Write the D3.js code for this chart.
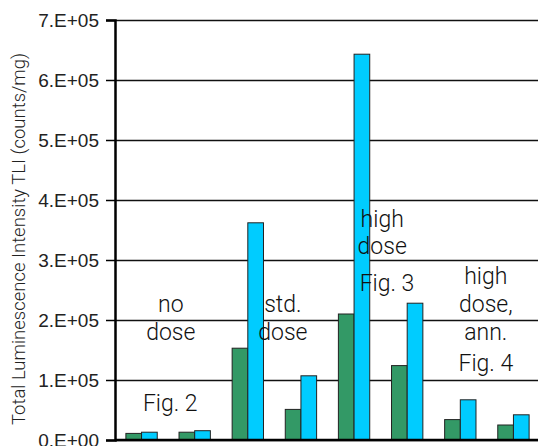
<!DOCTYPE html>
<html>
<head>
<meta charset="utf-8">
<script src="https://cdn.jsdelivr.net/npm/d3@7"></script>
<style>
  body { margin: 0; background: #fff; }
  svg { display: block; font-family: Roboto, "Liberation Sans", Arial, sans-serif; font-weight: 300; }
</style>
</head>
<body>
<svg id="chart" width="538" height="446"></svg>
<script>
// data
const categories = ["1", "2", "3", "4", "5", "6", "7", "8"]
const seriesNames = ["green", "blue"]
const greenValues = [11000, 13000, 153000, 51000, 210000, 124000, 34000, 25000]
const blueValues = [13000, 15500, 362000, 107000, 643000, 228000, 67000, 42000]
const yTicks = [0, 100000, 200000, 300000, 400000, 500000, 600000, 700000]

// text notes: lines, position in category units and baseline value
const noteText = ["no", "dose", "Fig. 2", "std.", "dose", "high", "dose", "Fig. 3", "high", "dose,", "ann.", "Fig. 4"]
const noteCat = [0.55, 0.55, 0.54, 2.66, 2.66, 4.53, 4.53, 4.62, 6.48, 6.48, 6.48, 6.48]
const noteVal = [213000, 166700, 49000, 213000, 166700, 355800, 310000, 249000, 260000, 213000, 166700, 115000]

const colors = { green: "#339966", blue: "#00ccff" }

const svg = d3.select("#chart")
const plot = { left: 115, right: 540, top: 20, bottom: 440 }

const x = d3.scaleBand()
  .domain(categories)
  .range([plot.left, plot.right])
  .paddingInner(0.41)
  .paddingOuter(0.205)

const xSub = d3.scaleBand()
  .domain(seriesNames)
  .range([0, x.bandwidth()])

const y = d3.scaleLinear()
  .domain([0, 700000])
  .range([plot.bottom, plot.top])

const fmt = (v) => v === 0 ? "0.E+00" : `${v / 100000}.E+05`

// grid lines
svg.append("g")
  .attr("transform", `translate(${plot.left},0)`)
  .call(d3.axisLeft(y).tickValues(yTicks).tickSize(-(plot.right - plot.left)).tickFormat(() => ""))
  .call((g) => g.select(".domain").remove())
  .selectAll("line")
  .attr("stroke", "#111")
  .attr("stroke-width", 1.4)

// bars
const rows = categories.map((c, i) => ({ cat: c, green: greenValues[i], blue: blueValues[i] }))
svg.append("g")
  .selectAll("g")
  .data(rows)
  .join("g")
  .attr("transform", (d) => `translate(${x(d.cat)},0)`)
  .selectAll("rect")
  .data((d) => seriesNames.map((s) => ({ s, v: d[s] })))
  .join("rect")
  .attr("x", (d) => xSub(d.s))
  .attr("y", (d) => y(d.v))
  .attr("width", xSub.bandwidth())
  .attr("height", (d) => y(0) - y(d.v))
  .attr("fill", (d) => colors[d.s])
  .attr("stroke", "#222")
  .attr("stroke-width", 1)

// y axis
const yAxis = svg.append("g")
  .attr("transform", `translate(${plot.left},0)`)
  .call(d3.axisLeft(y).tickValues(yTicks).tickSize(9).tickPadding(7).tickFormat(fmt))
yAxis.select(".domain").attr("stroke", "#000").attr("stroke-width", 2.5)
yAxis.selectAll(".tick line").attr("stroke", "#000").attr("stroke-width", 1.5)
yAxis.selectAll("text")
  .attr("fill", "#222")
  .style("font-family", "inherit")
  .style("font-size", "19px")

// x axis baseline
svg.append("line")
  .attr("x1", plot.left)
  .attr("x2", plot.right)
  .attr("y1", y(0))
  .attr("y2", y(0))
  .attr("stroke", "#000")
  .attr("stroke-width", 2.5)

// y axis title
svg.append("text")
  .attr("transform", `translate(25,${(48 + 430) / 2}) rotate(-90)`)
  .attr("text-anchor", "middle")
  .attr("fill", "#222")
  .style("font-size", "18.5px")
  .text("Total Luminescence Intensity TLI (counts/mg)")

// notes
const catX = (k) => x(categories[0]) + x.bandwidth() / 2 + k * x.step()
svg.append("g")
  .selectAll("text")
  .data(noteText)
  .join("text")
  .attr("x", (d, i) => catX(noteCat[i]))
  .attr("y", (d, i) => y(noteVal[i]))
  .attr("text-anchor", "middle")
  .attr("fill", "#111")
  .style("font-size", "23px")
  .text((d) => d)
</script>
</body>
</html>
